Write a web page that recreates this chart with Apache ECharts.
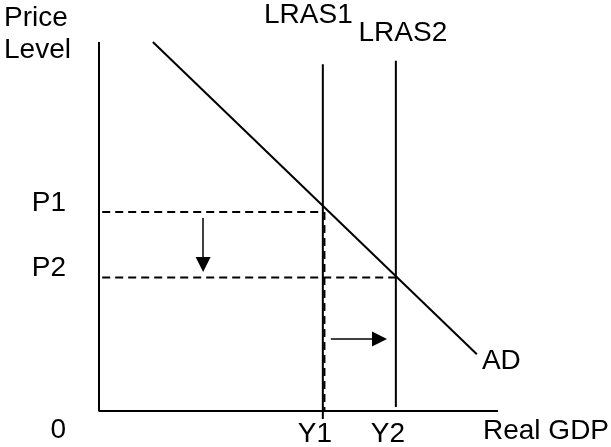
<!DOCTYPE html>
<html>
<head>
<meta charset="utf-8">
<script src="https://cdn.jsdelivr.net/npm/echarts@6/dist/echarts.min.js"></script>
<style>
  html, body { margin: 0; padding: 0; background: #fff; }
  #main { width: 611px; height: 447px; }
</style>
</head>
<body>
<div id="main"></div>
<script>
// values (x: real GDP 0-100, y: price level 0-100)
const axisPath = [[0, 100], [0, 0], [100, 0]];
const adCurve = [[13.5, 100], [94.7, 15.4]];
const lras1 = [[56.1, -2.2], [56.1, 94.0]];
const lras2 = [[74.4, 1.1], [74.4, 94.9]];
const p1Guide = [[0.8, 53.9], [56.1, 53.9]];
const p2Guide = [[0.8, 36.2], [74.4, 36.2]];
const y1Guide = [[56.5, 53.9], [56.5, 0]];
const priceShift = [[26.1, 52.3], [26.1, 39.7]];
const outputShift = [[58.1, 19.5], [70.3, 19.5]];

const yTicks = [0, 36.2, 53.9];
const yTickLabels = ['0', 'P2', 'P1'];
const xTicks = [56.1, 74.4];
const xTickLabels = ['Y1', 'Y2'];

const FONT = 'Liberation Sans, Arial, sans-serif';
const ink = '#000';

let myChart = echarts.init(document.getElementById('main'));

function labelled(points, idx, text, offset) {
  return points.map((p, i) => i === idx ? {
    value: p,
    label: {
      show: true, formatter: text, position: 'inside', offset: offset,
      color: ink, fontSize: 28, fontFamily: FONT
    }
  } : p);
}

function solid(name, data, width) {
  return {
    name: name, type: 'line', data: data, clip: false,
    symbol: 'circle', symbolSize: 0, showSymbol: true,
    lineStyle: { color: ink, width: width || 2 },
    itemStyle: { color: ink },
    silent: true
  };
}

function dashed(name, data) {
  return {
    name: name, type: 'line', data: data, clip: false,
    symbol: 'none',
    lineStyle: { color: ink, width: 2, type: [8, 5] },
    silent: true
  };
}

myChart.setOption({
  animation: false,
  grid: { left: 99, right: 113, top: 42, bottom: 36, containLabel: false, outerBoundsMode: 'none' },
  graphic: [{
    type: 'text', left: 4, top: 2,
    style: { text: 'Price\nLevel', font: '28px ' + FONT, lineHeight: 32, fill: ink }
  }],
  xAxis: {
    type: 'value', min: 0, max: 100,
    name: 'Real GDP', nameLocation: 'end', nameGap: -15,
    nameTextStyle: {
      color: ink, fontSize: 28, fontFamily: FONT,
      align: 'left', verticalAlign: 'top', lineHeight: 40
    },
    axisLine: { show: false }, axisTick: { show: false }, splitLine: { show: false },
    axisLabel: {
      customValues: xTicks, margin: 9,
      formatter: v => '{t|' + xTickLabels[xTicks.indexOf(v)] + '}',
      rich: { t: { color: ink, fontSize: 28, fontFamily: FONT, padding: [0, 16, 0, 0] } }
    }
  },
  yAxis: {
    type: 'value', min: 0, max: 100,
    axisLine: { show: false }, axisTick: { show: false }, splitLine: { show: false },
    axisLabel: {
      customValues: yTicks, margin: 33,
      formatter: v => {
        const t = yTickLabels[yTicks.indexOf(v)];
        return (t === '0' ? '{z|' : '{p|') + t + '}';
      },
      rich: {
        p: { color: ink, fontSize: 28, fontFamily: FONT, padding: [0, 0, 18, 0] },
        z: { color: ink, fontSize: 28, fontFamily: FONT, padding: [39, 0, 0, 0] }
      }
    }
  },
  series: [
    solid('axes', axisPath),
    dashed('P1', p1Guide),
    dashed('P2', p2Guide),
    dashed('Y1', y1Guide),
    solid('LRAS1', labelled(lras1, 1, 'LRAS1', [-14.5, -49])),
    solid('LRAS2', labelled(lras2, 1, 'LRAS2', [7, -28])),
    solid('AD', labelled(adCurve, 1, 'AD', [24.5, 7])),
    {
      name: 'shifts', type: 'line', data: [], silent: true,
      markLine: {
        silent: true, animation: false,
        symbol: ['none', 'triangle'], symbolSize: [15, 15],
        label: { show: false },
        lineStyle: { color: ink, width: 1.5, type: 'solid' },
        emphasis: { disabled: true },
        data: [
          [{ coord: priceShift[0] }, { coord: priceShift[1] }],
          [{ coord: outputShift[0] }, { coord: outputShift[1] }]
        ]
      }
    }
  ]
});
</script>
</body>
</html>
